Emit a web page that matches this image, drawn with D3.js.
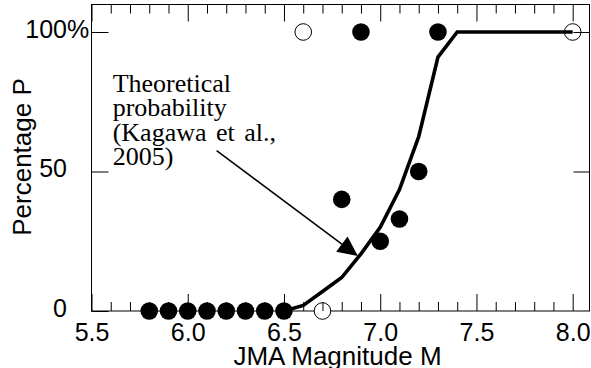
<!DOCTYPE html>
<html>
<head>
<meta charset="utf-8">
<script src="https://cdn.jsdelivr.net/npm/d3@7/dist/d3.min.js"></script>
<style>
  html, body { margin: 0; padding: 0; background: #fff; }
  svg { display: block; }
</style>
</head>
<body>
<svg id="chart" width="591" height="368"></svg>
<script>
// Observed rates of damage by JMA magnitude
const observedMag = [5.8, 5.9, 6.0, 6.1, 6.2, 6.3, 6.4, 6.5, 6.8, 6.9, 7.0, 7.1, 7.2, 7.3];
const observedPct = [0, 0, 0, 0, 0, 0, 0, 0, 40, 100, 25, 33, 50, 100];

// Events plotted with open symbols
const openMag = [6.6, 6.7, 8.0];
const openPct = [100, 0, 100];

// Theoretical probability curve (Kagawa et al., 2005)
const curveMag = [6.5, 6.6, 6.7, 6.8, 6.9, 7.0, 7.1, 7.2, 7.3, 7.4, 7.5, 7.6, 7.7, 7.8, 7.9, 8.0];
const curvePct = [0, 2, 7, 12, 20.5, 30, 43.5, 62.5, 91, 100, 100, 100, 100, 100, 100, 100];

// Axis ticks
const xMajorTicks = [5.5, 6.0, 6.5, 7.0, 7.5, 8.0];
const xMajorLabels = ["5.5", "6.0", "6.5", "7.0", "7.5", "8.0"];
const xMinorTicks = [5.6, 5.7, 5.8, 5.9, 6.1, 6.2, 6.3, 6.4, 6.6, 6.7, 6.8, 6.9,
                     7.1, 7.2, 7.3, 7.4, 7.6, 7.7, 7.8, 7.9];
const yTicks = [0, 50, 100];
const yLabels = ["0", "50", "100"];

// Annotation text
const noteLines = ["Theoretical", "probability", "(Kagawa et al.,", "2005)"];

const svg = d3.select("#chart");
const sans = "'Liberation Sans', Arial, Helvetica, sans-serif";
const serif = "'Liberation Serif', 'Times New Roman', Times, serif";

const frame = { left: 91.5, right: 589.5, top: 4.5, bottom: 311 };
const x = d3.scaleLinear().domain([5.5, 8.0]).range([frame.left, 572.7]);
const y = d3.scaleLinear().domain([0, 100]).range([frame.bottom, 32]);

// Frame
svg.append("rect")
  .attr("x", frame.left).attr("y", frame.top)
  .attr("width", frame.right - frame.left)
  .attr("height", frame.bottom - frame.top)
  .attr("fill", "none").attr("stroke", "#000").attr("stroke-width", 1);

// Open symbols sit beneath the axis lines
svg.append("g").selectAll("circle")
  .data(openMag.map((m, i) => [m, openPct[i]]))
  .join("circle")
  .attr("cx", d => x(d[0])).attr("cy", d => y(d[1]))
  .attr("r", 8.3)
  .attr("fill", "#fff").attr("stroke", "#000").attr("stroke-width", 1);

function styleAxis(g) {
  g.select(".domain").remove();
  g.selectAll(".tick line").attr("stroke", "#000").attr("stroke-width", 1);
  g.selectAll("text").attr("fill", "#000").attr("font-family", sans).attr("font-size", 25);
}

// Bottom axis: major ticks with labels, minor ticks without
svg.append("g").attr("transform", `translate(0,${frame.bottom})`)
  .call(d3.axisBottom(x).tickValues(xMajorTicks)
    .tickFormat((d, i) => xMajorLabels[i]).tickSize(-17).tickPadding(12))
  .call(styleAxis)
  .selectAll("text").attr("dy", "0.71em");
svg.append("g").attr("transform", `translate(0,${frame.bottom})`)
  .call(d3.axisBottom(x).tickValues(xMinorTicks).tickFormat("").tickSize(-9))
  .call(styleAxis);

// Top axis: ticks only
svg.append("g").attr("transform", `translate(0,${frame.top})`)
  .call(d3.axisTop(x).tickValues(xMajorTicks).tickFormat("").tickSize(-17))
  .call(styleAxis);
svg.append("g").attr("transform", `translate(0,${frame.top})`)
  .call(d3.axisTop(x).tickValues(xMinorTicks).tickFormat("").tickSize(-9))
  .call(styleAxis);

// Left axis
const yAxisG = svg.append("g").attr("transform", `translate(${frame.left},0)`)
  .call(d3.axisLeft(y).tickValues(yTicks)
    .tickFormat((d, i) => yLabels[i]).tickSize(-17).tickPadding(24.5))
  .call(styleAxis);
yAxisG.selectAll("text").attr("dy", "0.2em")
  .filter(d => d === 100)
  .append("tspan").text("%");
yAxisG.selectAll("text").filter(d => d === 100).attr("dx", "0.889em");

// Right axis: inward ticks at 50 and 100
svg.append("g").attr("transform", `translate(${frame.right},0)`)
  .call(d3.axisRight(y).tickValues([50, 100]).tickFormat("").tickSize(-16))
  .call(styleAxis);

// Theoretical curve
svg.append("path")
  .datum(curveMag.map((m, i) => [m, curvePct[i]]))
  .attr("d", d3.line().x(d => x(d[0])).y(d => y(d[1])))
  .attr("fill", "none").attr("stroke", "#000")
  .attr("stroke-width", 3.6).attr("stroke-linejoin", "miter");

// Observed (filled) symbols
svg.append("g").selectAll("circle")
  .data(observedMag.map((m, i) => [m, observedPct[i]]))
  .join("circle")
  .attr("cx", d => x(d[0])).attr("cy", d => y(d[1]))
  .attr("r", 8.8).attr("fill", "#000");

// Annotation text
const noteX = 5.61, noteY = 78.5, lineGap = 24.5;
svg.append("text")
  .attr("font-family", serif).attr("font-size", 26).attr("fill", "#000")
  .attr("word-spacing", 3)
  .selectAll("tspan").data(noteLines).join("tspan")
  .attr("x", x(noteX))
  .attr("y", (d, i) => y(noteY) + i * lineGap)
  .text(d => d);

// Annotation arrow
const arrowFrom = [6.15, 57.5], arrowTo = [6.884, 19.7];
const x0 = x(arrowFrom[0]), y0 = y(arrowFrom[1]);
const x1 = x(arrowTo[0]), y1 = y(arrowTo[1]);
const ang = Math.atan2(y1 - y0, x1 - x0);
const headLen = 20, headHalf = 9.5;
const bx = x1 - headLen * Math.cos(ang), by = y1 - headLen * Math.sin(ang);
svg.append("line")
  .attr("x1", x0).attr("y1", y0).attr("x2", bx).attr("y2", by)
  .attr("stroke", "#000").attr("stroke-width", 1.5);
svg.append("path")
  .attr("d", `M${x1},${y1}L${bx + headHalf * Math.sin(ang)},${by - headHalf * Math.cos(ang)}` +
             `L${bx - headHalf * Math.sin(ang)},${by + headHalf * Math.cos(ang)}Z`)
  .attr("fill", "#000");

// Axis titles
svg.append("text")
  .attr("x", (frame.left + frame.right) / 2 - 3).attr("y", 365)
  .attr("text-anchor", "middle")
  .attr("font-family", sans).attr("font-size", 26).attr("fill", "#000")
  .text("JMA Magnitude M");
svg.append("text")
  .attr("transform", "translate(30.5,157) rotate(-90)")
  .attr("text-anchor", "middle")
  .attr("font-family", sans).attr("font-size", 26).attr("fill", "#000")
  .text("Percentage P");
</script>
</body>
</html>
